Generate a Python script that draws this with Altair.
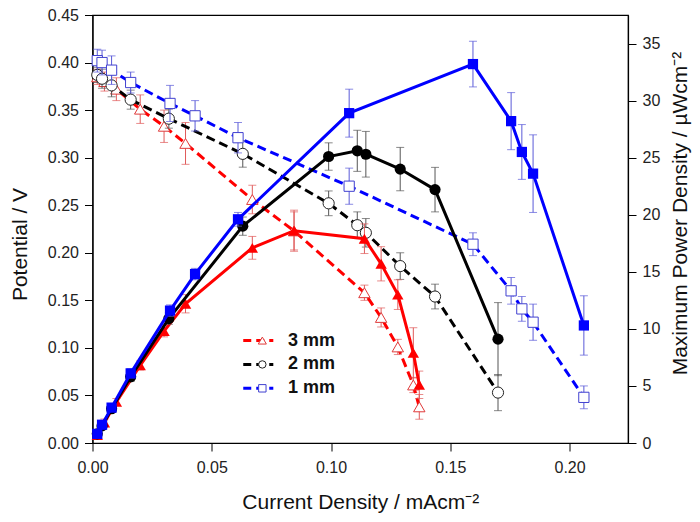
import altair as alt
import pandas as pd

# ---------------- data ----------------
series_labels = ["3 mm", "2 mm", "1 mm"]

# 3 mm
x_3 = [0.002, 0.005, 0.010, 0.020, 0.030, 0.039, 0.067, 0.0845, 0.114, 0.121, 0.128, 0.1345, 0.137]
v_3 = [0.385, 0.380, 0.372, 0.351, 0.333, 0.315, 0.256, 0.223, 0.158, 0.132, 0.101, 0.061, 0.038]
v_3_err = [0.008, 0.010, 0.012, 0.015, 0.017, 0.022, 0.015, 0.020, 0.008, 0.010, 0.008, 0.008, 0.013]
p_3 = [0.7, 1.8, 3.6, 6.8, 9.8, 12.2, 17.1, 18.6, 17.9, 15.7, 13.0, 7.9, 5.1]
p_3_err = [0.2, 0.3, 0.3, 0.4, 0.5, 0.8, 1.0, 1.8, 1.3, 1.5, 1.3, 2.2, 1.2]

# 2 mm
x_2 = [0.002, 0.004, 0.008, 0.016, 0.032, 0.063, 0.099, 0.111, 0.1146, 0.129, 0.1436, 0.170]
v_2 = [0.387, 0.383, 0.376, 0.361, 0.341, 0.304, 0.252, 0.229, 0.221, 0.186, 0.154, 0.053]
v_2_err = [0.008, 0.010, 0.012, 0.010, 0.010, 0.014, 0.013, 0.014, 0.015, 0.014, 0.013, 0.019]
p_2 = [0.8, 1.5, 3.0, 5.8, 10.9, 19.0, 25.1, 25.6, 25.3, 24.0, 22.2, 9.1]
p_2_err = [0.2, 0.2, 0.3, 0.4, 0.5, 0.8, 1.2, 1.8, 2.0, 1.9, 1.95, 3.2]

# 1 mm
x_1 = [0.002, 0.004, 0.008, 0.016, 0.0325, 0.043, 0.061, 0.1076, 0.1595, 0.1755, 0.180, 0.1847, 0.206]
v_1 = [0.402, 0.400, 0.392, 0.379, 0.357, 0.344, 0.321, 0.270, 0.209, 0.160, 0.141, 0.127, 0.048]
v_1_err = [0.012, 0.013, 0.015, 0.011, 0.019, 0.016, 0.016, 0.019, 0.012, 0.014, 0.013, 0.019, 0.012]
p_1 = [0.8, 1.6, 3.1, 6.1, 11.6, 14.8, 19.6, 28.9, 33.2, 28.2, 25.5, 23.6, 10.3]
p_1_err = [0.2, 0.2, 0.3, 0.4, 0.5, 0.5, 0.6, 2.1, 2.0, 2.5, 2.4, 3.4, 2.6]

# legend placement (data units of the left axis)
legend_y = [0.1077, 0.0826, 0.0575]
legend_x0, legend_xm, legend_x1, legend_xt = 0.0632, 0.0712, 0.0758, 0.0820

# ---------------- styles ----------------
FONT = "Liberation Sans"
styles = {
    "3 mm": dict(line="#ff0000", err="#e05a5a", open="#e03a3a", shape="triangle-up", psize=130, lsize=65),
    "2 mm": dict(line="#000000", err="#555555", open="#222222", shape="circle", psize=125, lsize=55),
    "1 mm": dict(line="#0000ff", err="#5a5ad8", open="#4040d0", shape="square", psize=105, lsize=55),
}
data = {
    "3 mm": (x_3, v_3, v_3_err, p_3, p_3_err),
    "2 mm": (x_2, v_2, v_2_err, p_2, p_2_err),
    "1 mm": (x_1, v_1, v_1_err, p_1, p_1_err),
}

xscale = alt.Scale(domain=[0, 0.2245], nice=False, zero=False)
yl_scale = alt.Scale(domain=[0, 0.45], nice=False)
yr_scale = alt.Scale(domain=[0, 37.5], nice=False)

x_axis = alt.Axis(values=[0, 0.05, 0.10, 0.15, 0.20], format=".2f", labelFlush=False,
                  labelPadding=8,
                  title="Current Density / mAcm\u207B\u00B2",
                  titleX=267.75, titleY=65, titleAlign="center", titleBaseline="alphabetic")
yl_axis = alt.Axis(values=[round(0.05 * i, 2) for i in range(10)], format=".2f", labelFlush=False,
                   labelPadding=6,
                   title="Potential / V", titleAngle=270, titleX=-66, titleY=229,
                   titleAlign="center", titleBaseline="alphabetic")
yr_axis = alt.Axis(values=[0, 5, 10, 15, 20, 25, 30, 35], format="d", orient="right", labelFlush=False,
                   labelPadding=6,
                   title="Maximum Power Density / \u00B5Wcm\u207B\u00B2", titleAngle=270,
                   titleX=58, titleY=198, titleAlign="center", titleBaseline="alphabetic")


def X(field):
    return alt.X(field, scale=xscale, axis=x_axis)


def YL(field):
    return alt.Y(field, scale=yl_scale, axis=yl_axis)


def YR(field):
    return alt.Y(field, scale=yr_scale, axis=yr_axis)


def err_layers(df, ycol, ecol, color, Y):
    d = df.copy()
    d["lo"] = d[ycol] - d[ecol]
    d["hi"] = d[ycol] + d[ecol]
    base = alt.Chart(d)
    rule = base.mark_rule(color=color, strokeWidth=1).encode(x=X("x:Q"), y=Y("lo:Q"), y2="hi:Q")
    t1 = base.mark_tick(color=color, orient="horizontal", size=8, thickness=1).encode(
        x=X("x:Q"), y=Y("lo:Q"))
    t2 = base.mark_tick(color=color, orient="horizontal", size=8, thickness=1).encode(
        x=X("x:Q"), y=Y("hi:Q"))
    return [rule, t1, t2]


left_layers = []
right_layers = []
for lab in series_labels:
    xs, vs, ves, ps, pes = data[lab]
    st = styles[lab]
    dpol = pd.DataFrame({"x": xs, "v": vs, "ve": ves})
    dpwr = pd.DataFrame({"x": xs, "p": ps, "pe": pes})

    # polarization (left axis, dashed, open markers)
    left_layers += err_layers(dpol, "v", "ve", st["err"], YL)
    left_layers.append(
        alt.Chart(dpol).mark_line(color=st["line"], strokeWidth=3, strokeDash=[9, 5]).encode(
            x=X("x:Q"), y=YL("v:Q"))
    )
    left_layers.append(
        alt.Chart(dpol).mark_point(shape=st["shape"], size=st["psize"], filled=True, fill="white",
                                   stroke=st["open"], strokeWidth=1, opacity=1).encode(
            x=X("x:Q"), y=YL("v:Q"))
    )

    # power (right axis, solid, filled markers)
    right_layers += err_layers(dpwr, "p", "pe", st["err"], YR)
    right_layers.append(
        alt.Chart(dpwr).mark_line(color=st["line"], strokeWidth=3).encode(x=X("x:Q"), y=YR("p:Q"))
    )
    right_layers.append(
        alt.Chart(dpwr).mark_point(shape=st["shape"], size=st["psize"], filled=True,
                                   color=st["line"], opacity=1).encode(x=X("x:Q"), y=YR("p:Q"))
    )

# legend (drawn inside the plot, in left-axis data units)
for lab, ly in zip(series_labels, legend_y):
    st = styles[lab]
    dl = pd.DataFrame({"x0": [legend_x0], "x1": [legend_x1], "xm": [legend_xm], "xt": [legend_xt],
                       "y": [ly], "label": [lab]})
    left_layers.append(
        alt.Chart(dl).mark_rule(color=st["line"], strokeWidth=3, strokeDash=[8, 5]).encode(
            x=X("x0:Q"), x2="x1:Q", y=YL("y:Q"))
    )
    left_layers.append(
        alt.Chart(dl).mark_point(shape=st["shape"], size=st["lsize"], filled=True, fill="white",
                                 stroke=st["open"], strokeWidth=1, opacity=1).encode(
            x=X("xm:Q"), y=YL("y:Q"))
    )
    left_layers.append(
        alt.Chart(dl).mark_text(align="left", baseline="middle", font=FONT, fontSize=18,
                                fontWeight="bold", color="#111").encode(
            x=X("xt:Q"), y=YL("y:Q"), text="label:N")
    )

left = alt.layer(*left_layers)
right = alt.layer(*right_layers)

chart = alt.layer(left, right).resolve_scale(y="independent").properties(
    width=535.5, height=428,
    autosize=alt.AutoSizeParams(type="none"),
    padding={"left": 84.5, "top": 7, "right": 64, "bottom": 71},
).configure_view(stroke="black", strokeWidth=1.2).configure_axis(
    labelFont=FONT, labelFontSize=16, labelColor="#222",
    titleFont=FONT, titleFontSize=21, titleFontWeight="normal", titleColor="#111",
    tickColor="black", tickSize=8, domainColor="black", domainWidth=1.2, grid=False,
)

chart.save("out.html", embed_options={"renderer": "svg", "actions": False})
